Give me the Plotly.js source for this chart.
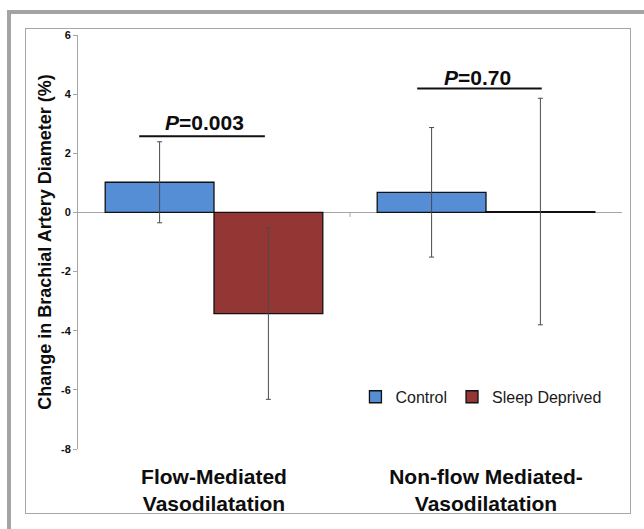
<!DOCTYPE html>
<html>
<head>
<meta charset="utf-8">
<script src="https://cdn.plot.ly/plotly-3.0.1.min.js"></script>
<style>
  html, body { margin:0; padding:0; width:644px; height:529px; overflow:hidden; background:#fff; }
  #outer { position:absolute; left:7px; top:10px; width:700px; height:600px; border:4px solid #a4a4a4; box-sizing:border-box; }
  #inner { position:absolute; left:25px; top:28px; width:606px; height:486px; border:1px solid #a6a6a6; box-sizing:border-box; }
  #chart { position:absolute; left:26px; top:0px; width:604px; height:529px; }
</style>
</head>
<body>
<div id="outer"></div>
<div id="inner"></div>
<div id="chart"></div>
<script>
const categories = ['Flow-Mediated<br>Vasodilatation', 'Non-flow Mediated-<br>Vasodilatation'];
const seriesNames = ['Control', 'Sleep Deprived'];
const controlValues = [1.02, 0.68];
const controlErrors = [1.37, 2.19];
const sleepValues = [-3.42, 0.03];
const sleepErrors = [2.90, 3.83];
const yTickValues = [-8, -6, -4, -2, 0, 2, 4, 6];
const yTickLabels = ['-8', '-6', '-4', '-2', '0', '2', '4', '6'];
const pLabels = ['<i>P</i>=0.003', '<i>P</i>=0.70'];

const FONT = 'Liberation Sans, Arial, sans-serif';
const errStyle = {type:'data', visible:true, color:'#4a4a4a', thickness:1, width:2.5};

const traces = [
  {type:'bar', name:seriesNames[0], x:categories, y:controlValues,
   error_y:Object.assign({array:controlErrors}, errStyle),
   marker:{color:'#558ED5', line:{color:'#111', width:1.3}}},
  {type:'bar', name:seriesNames[1], x:categories, y:sleepValues,
   error_y:Object.assign({array:sleepErrors}, errStyle),
   marker:{color:'#943634', line:{color:'#111', width:1.3}}}
];

const layout = {
  width:604, height:529,
  margin:{l:52, r:8, t:35, b:80},
  paper_bgcolor:'rgba(0,0,0,0)', plot_bgcolor:'rgba(0,0,0,0)',
  font:{family:FONT, color:'#0d0d0d'},
  barmode:'group', bargap:0.2, bargroupgap:0,
  showlegend:true,
  legend:{orientation:'h', x:0.51, y:0.126, xanchor:'left', yanchor:'middle',
          font:{family:FONT, size:16, color:'#1a1a1a'}, bgcolor:'rgba(0,0,0,0)', itemwidth:30},
  xaxis:{type:'category', showline:false, ticks:'', showgrid:false, zeroline:false,
         tickfont:{family:FONT, size:21, color:'#0d0d0d', weight:'bold'},
         ticklabelstandoff:13, fixedrange:true},
  yaxis:{range:[-8, 6], tickvals:yTickValues, ticktext:yTickLabels, ticks:'outside', ticklen:4, tickcolor:'#a6a6a6',
         showline:true, linecolor:'#a6a6a6', linewidth:1, showgrid:false,
         zeroline:true, zerolinecolor:'#a6a6a6', zerolinewidth:1,
         tickfont:{family:FONT, size:11, color:'#0d0d0d', weight:'bold'},
         title:{text:'Change in Brachial Artery Diameter (%)', font:{family:FONT, size:18, color:'#0d0d0d', weight:'bold'}, standoff:4},
         fixedrange:true},
  shapes:[
    {type:'line', xref:'x', yref:'y', x0:-0.275, x1:0.187, y0:2.58, y1:2.58, line:{color:'#111', width:2}},
    {type:'line', xref:'x', yref:'y', x0:0.747, x1:1.205, y0:4.19, y1:4.19, line:{color:'#111', width:2}},
    {type:'line', xref:'x', yref:'y', x0:0.5, x1:0.5, y0:0, y1:-0.15, line:{color:'#a6a6a6', width:1}}
  ],
  annotations:[
    {xref:'x', yref:'y', x:-0.035, y:3.04, text:pLabels[0], showarrow:false,
     font:{family:FONT, size:21, color:'#0d0d0d', weight:'bold'}},
    {xref:'x', yref:'y', x:0.97, y:4.57, text:pLabels[1], showarrow:false,
     font:{family:FONT, size:21, color:'#0d0d0d', weight:'bold'}}
  ]
};

Plotly.newPlot('chart', traces, layout, {displayModeBar:false, staticPlot:true});
</script>
</body>
</html>
